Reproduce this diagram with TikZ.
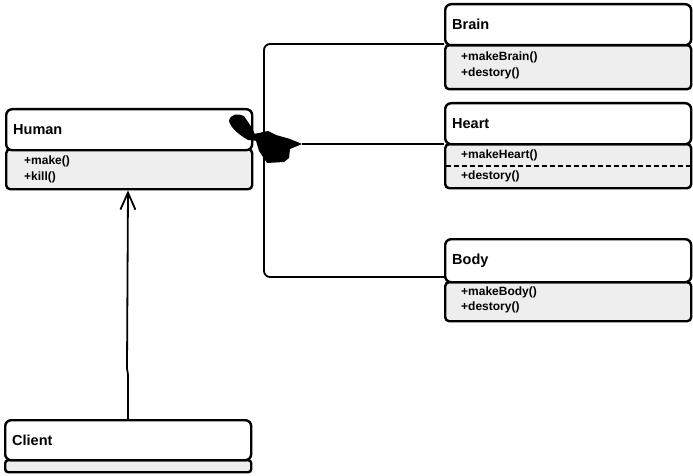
\documentclass[tikz,border=0pt]{standalone}
\usepackage{fontspec}
\setmainfont{Liberation Sans}
\usetikzlibrary{arrows.meta}
\definecolor{cmpgray}{HTML}{EEEEEE}
\tikzset{
  hdr/.style={draw, line width=2.4pt, fill=white, rounded corners=6pt,
    minimum width=246pt, minimum height=41pt, anchor=north west,
    inner xsep=7pt, inner ysep=0pt, text width=232pt, align=left,
    font=\fontsize{14.5}{16}\selectfont\bfseries},
  cmp/.style={draw, line width=2.4pt, fill=cmpgray, rounded corners=4pt,
    minimum width=246pt, anchor=north west,
    inner xsep=0pt, inner ysep=0pt, text width=246pt, align=left},
  meth/.style={anchor=west, inner sep=0pt, font=\fontsize{12}{13}\selectfont\bfseries},
  conn/.style={line width=1.8pt, rounded corners=6pt},
}
\begin{document}
\begin{tikzpicture}[x=1pt,y=-1pt]
\useasboundingbox (0,0) rectangle (693,476);
% Human
\node[cmp, minimum height=40pt] (humanC) at (5,148) {};
\node[hdr] (humanH) at (5,108) {Human};
\node[meth] (hm1) at (24,161) {+make()};
\node[meth] (hm2) at (24,177) {+kill()};
% Brain
\node[cmp, minimum height=44pt] (brainC) at (444,44) {};
\node[hdr] (brainH) at (444,3) {Brain};
\node[meth] (bm1) at (461,57) {+makeBrain()};
\node[meth] (bm2) at (461,73) {+destory()};
% Heart
\node[cmp, minimum height=44pt] (heartC) at (444,143) {};
\node[hdr] (heartH) at (444,102) {Heart};
\node[meth] (htm1) at (461,155) {+makeHeart()};
\node[meth] (htm2) at (461,176) {+destory()};
\draw[line width=2pt, dashed, dash pattern=on 5pt off 3pt] ([xshift=2pt]heartC.west |- 0,166) -- (heartC.east |- 0,166);
% Body
\node[cmp, minimum height=39pt] (bodyC) at (444,281) {};
\node[hdr, minimum height=43pt] (bodyH) at (444,238) {Body};
\node[meth] (bym1) at (461,292) {+makeBody()};
\node[meth] (bym2) at (461,307) {+destory()};
% Client
\node[cmp, minimum height=12pt, rounded corners=3pt] (clientC) at (4,459) {};
\node[hdr, minimum height=40pt] (clientH) at (4,419) {Client};
% composition diamond (hand drawn)
\coordinate (dtip) at (302,144);
\fill (229,121) .. controls (230,114) and (238,113) .. (244,116)
  -- (252,128) -- (258,141) -- (248,140) .. controls (238,134) and (231,128) .. cycle;
\fill (254,134) -- (268,131) -- (276,135) -- (290,139) -- (dtip)
  -- (290,149) -- (289,158) -- (284,162) -- (267,163) -- (259,151) -- cycle;
% connectors
\draw[conn] (brainH.west |- 0,44) -- (264,44) -- (264,277) -- (bodyH.west |- 0,277);
\draw[line width=1.8pt] (dtip) -- (heartH.west |- 0,144);
\draw[line width=1.8pt, -{Straight Barb[length=17pt,width=15pt,line width=1.8pt]}]
  (clientH.north -| 128,0) -- (128,375) -- (127,368) -- (humanC.south -| 128,0);
\end{tikzpicture}
\end{document}
